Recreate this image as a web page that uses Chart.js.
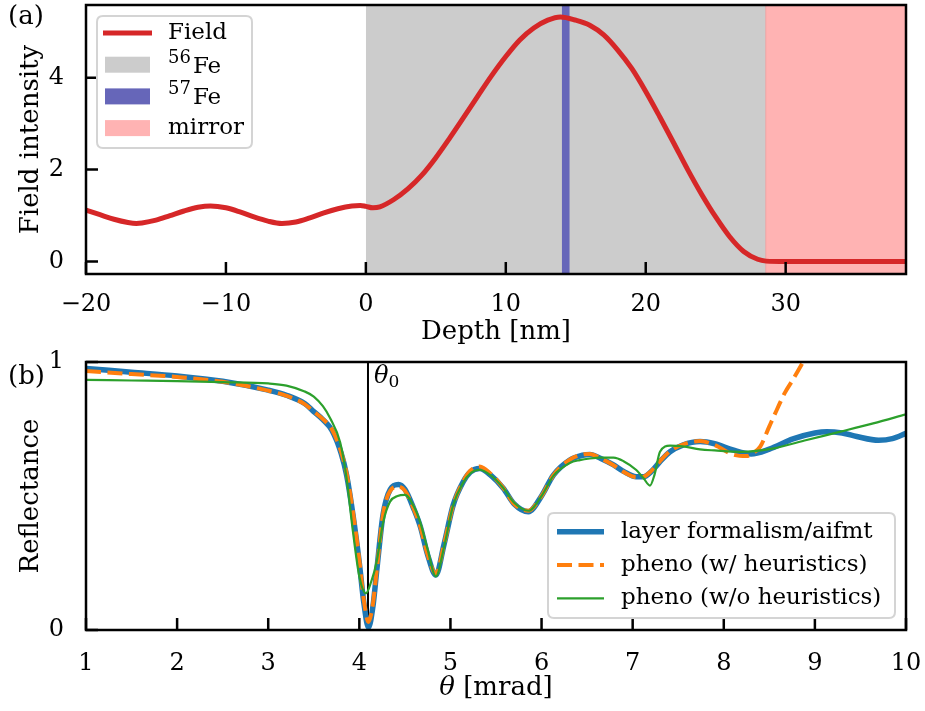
<!DOCTYPE html>
<html>
<head>
<meta charset="utf-8">
<script src="https://cdn.jsdelivr.net/npm/chart.js@4.4.1/dist/chart.umd.min.js"></script>
<style>
body { margin: 0; background: #fff; }
#wrap { position: relative; width: 925px; height: 711px; }
canvas { position: absolute; left: 0; }
</style>
</head>
<body>
<div id="wrap">
  <canvas id="chartA" width="925" height="350" style="top:0"></canvas>
  <canvas id="chartB" width="925" height="361" style="top:350px"></canvas>
</div>
<script>
// ---- panel (a): field intensity vs depth ----
var depth = [-20,-19,-18,-17,-16.4,-16,-15,-14,-13,-12,-11.1,-10,-9,-8,-7,-6,-5,-4,-3,-2,-1,-0.4,0,0.5,1,2,3,4,5,6,7,8,9,10,11,12,13,13.9,15,16,17,18,19,20,21,22,23,24,25,26,27,28,28.6,30,38.6];
var field = [1.12,1.02,0.92,0.85,0.83,0.84,0.9,1.0,1.1,1.18,1.21,1.17,1.08,0.97,0.88,0.83,0.86,0.95,1.06,1.15,1.21,1.22,1.2,1.17,1.19,1.35,1.58,1.88,2.26,2.69,3.14,3.6,4.05,4.46,4.82,5.08,5.25,5.32,5.25,5.14,4.93,4.6,4.2,3.7,3.15,2.58,2.0,1.46,0.97,0.54,0.22,0.05,0.01,0,0];
var fe56Layer = [0, 28.57];
var fe57Layer = [14.0, 14.57];
var mirrorLayer = [28.57, 38.6];
var depthRange = [-20, 38.6];
var fieldRange = [-0.27, 5.58];
var depthTicks = [-20, -10, 0, 10, 20, 30];
var fieldTicks = [0, 2, 4];

// ---- panel (b): reflectance vs angle ----
var thetaLayer = [1.0,1.5,2.0,2.5,3.0,3.2,3.4,3.5,3.6,3.7,3.8,3.86,3.93,4.0,4.05,4.1,4.15,4.19,4.26,4.34,4.43,4.5,4.6,4.67,4.75,4.84,4.93,5.03,5.14,5.22,5.32,5.45,5.58,5.7,5.855,6.0,6.13,6.31,6.45,6.53,6.65,6.79,6.9,7.04,7.12,7.2,7.3,7.41,7.55,7.74,7.9,8.1,8.3,8.5,8.76,9.0,9.13,9.3,9.46,9.7,9.85,10.0];
var reflLayer = [0.976,0.962,0.948,0.928,0.895,0.876,0.845,0.815,0.785,0.745,0.66,0.578,0.43,0.25,0.1,0.01,0.09,0.218,0.43,0.525,0.543,0.525,0.45,0.385,0.28,0.205,0.32,0.466,0.553,0.59,0.603,0.575,0.529,0.47,0.441,0.5,0.578,0.634,0.652,0.655,0.64,0.616,0.592,0.572,0.572,0.59,0.628,0.665,0.69,0.703,0.695,0.672,0.657,0.675,0.713,0.735,0.74,0.735,0.722,0.708,0.714,0.734];
var thetaHeur = [1.0,1.5,2.0,2.5,3.0,3.2,3.4,3.5,3.6,3.7,3.8,3.86,3.93,4.0,4.05,4.1,4.15,4.19,4.26,4.34,4.43,4.5,4.6,4.67,4.75,4.84,4.93,5.03,5.14,5.22,5.32,5.45,5.58,5.7,5.855,6.0,6.13,6.31,6.45,6.53,6.65,6.79,6.9,7.04,7.12,7.2,7.3,7.41,7.55,7.74,7.9,8.1,8.25,8.33,8.4,8.5,8.58,8.67,8.76,8.87,9.0];
var reflHeur = [0.966,0.955,0.944,0.926,0.893,0.874,0.843,0.815,0.787,0.748,0.665,0.585,0.44,0.26,0.11,0.03,0.1,0.22,0.43,0.52,0.535,0.52,0.45,0.385,0.28,0.21,0.32,0.466,0.555,0.595,0.61,0.58,0.53,0.47,0.445,0.5,0.578,0.636,0.655,0.657,0.64,0.615,0.59,0.57,0.572,0.592,0.63,0.667,0.692,0.705,0.69,0.655,0.649,0.662,0.684,0.76,0.82,0.885,0.935,1.0,1.08];
var thetaNoHeur = [1.0,1.5,2.0,2.5,3.0,3.2,3.4,3.5,3.6,3.68,3.79,3.86,3.93,4.0,4.073,4.13,4.19,4.263,4.337,4.42,4.5,4.6,4.67,4.75,4.84,4.93,5.03,5.14,5.22,5.32,5.45,5.58,5.7,5.855,6.0,6.13,6.31,6.42,6.53,6.65,6.79,6.9,7.04,7.12,7.19,7.24,7.3,7.41,7.55,7.74,7.9,8.18,8.55,8.91,9.28,9.64,10.0];
var reflNoHeur = [0.933,0.931,0.929,0.925,0.92,0.912,0.89,0.871,0.835,0.79,0.70,0.567,0.367,0.2,0.137,0.18,0.255,0.404,0.479,0.5,0.504,0.46,0.4,0.3,0.2,0.31,0.466,0.55,0.585,0.598,0.575,0.53,0.475,0.445,0.5,0.575,0.623,0.634,0.64,0.643,0.643,0.63,0.597,0.566,0.539,0.58,0.665,0.688,0.685,0.674,0.67,0.665,0.678,0.709,0.74,0.771,0.805];
var theta0 = 4.095;
var thetaRange = [1, 10];
var reflRange = [0, 1];
var thetaTicks = [1,2,3,4,5,6,7,8,9,10];
var reflTicks = [0, 1];

var FONT = 'DejaVu Serif';
Chart.defaults.font.family = FONT;
Chart.defaults.color = '#000';

function xy(xs, ys) {
    return xs.map(function(x, i) { return {x: x, y: ys[i]}; });
}

function fmt(v) {
    return v < 0 ? '\u2212' + Math.abs(v) : '' + v;
}

function fixedBox(w, h) {
    return function(s) {
        if (w) s.width = w;
        if (h) s.height = h;
        s.paddingTop = 0; s.paddingBottom = 0;
        s.paddingLeft = 0; s.paddingRight = 0;
    };
}

function roundRect(ctx, x, y, w, h, r) {
    ctx.beginPath();
    ctx.moveTo(x + r, y);
    ctx.lineTo(x + w - r, y);
    ctx.quadraticCurveTo(x + w, y, x + w, y + r);
    ctx.lineTo(x + w, y + h - r);
    ctx.quadraticCurveTo(x + w, y + h, x + w - r, y + h);
    ctx.lineTo(x + r, y + h);
    ctx.quadraticCurveTo(x, y + h, x, y + h - r);
    ctx.lineTo(x, y + r);
    ctx.quadraticCurveTo(x, y, x + r, y);
    ctx.closePath();
}

// black frame + inward ticks, matplotlib style
var frameTicks = {
    id: 'frameTicks',
    afterDatasetsDraw: function(chart) {
        var a = chart.chartArea, ctx = chart.ctx;
        var sx = chart.scales.x, sy = chart.scales.y;
        ctx.save();
        ctx.strokeStyle = '#000';
        ctx.lineWidth = 2.5;
        ctx.beginPath();
        sx.ticks.forEach(function(t) {
            var px = sx.getPixelForValue(t.value);
            ctx.moveTo(px, a.bottom);
            ctx.lineTo(px, a.bottom - 12);
        });
        sy.ticks.forEach(function(t) {
            var py = sy.getPixelForValue(t.value);
            ctx.moveTo(a.left, py);
            ctx.lineTo(a.left + 12, py);
        });
        ctx.stroke();
        ctx.strokeRect(a.left, a.top, a.right - a.left, a.bottom - a.top);
        ctx.restore();
    }
};

// legend drawn inside the plot area
var boxLegend = {
    id: 'boxLegend',
    afterDraw: function(chart, args, o) {
        var ctx = chart.ctx;
        ctx.save();
        roundRect(ctx, o.x, o.y, o.w, o.h, 6);
        ctx.fillStyle = 'rgba(255,255,255,0.8)';
        ctx.fill();
        ctx.strokeStyle = '#d4d4d4';
        ctx.lineWidth = 2;
        ctx.stroke();
        var row = 0;
        chart.data.datasets.forEach(function(ds) {
            if (!ds.label) return;
            var cy = o.y + o.first + row * o.rowH;
            var hx = o.x + o.hx;
            if (ds.fill) {
                ctx.fillStyle = ds.backgroundColor;
                ctx.fillRect(hx + 2, cy - 8, o.hl - 4, 16);
            } else {
                ctx.strokeStyle = ds.borderColor;
                ctx.lineWidth = ds.borderWidth;
                ctx.setLineDash(ds.borderDash || []);
                ctx.beginPath();
                ctx.moveTo(hx, cy);
                ctx.lineTo(hx + o.hl, cy);
                ctx.stroke();
                ctx.setLineDash([]);
            }
            ctx.fillStyle = '#000';
            ctx.textAlign = 'left';
            var tx = o.x + o.tx;
            if (ds.isotope) {
                // mass number as a raised superscript, then the element
                ctx.textBaseline = 'alphabetic';
                ctx.font = '18px ' + FONT;
                ctx.fillText(ds.isotope, tx, cy - 2);
                var sw = ctx.measureText(ds.isotope).width;
                ctx.font = o.size + 'px ' + FONT;
                ctx.fillText(ds.element, tx + sw + 2, cy + 8);
            } else {
                ctx.font = o.size + 'px ' + FONT;
                ctx.textBaseline = 'middle';
                ctx.fillText(ds.label, tx, cy);
            }
            row++;
        });
        ctx.restore();
    }
};

var chartA = new Chart(document.getElementById('chartA'), {
    type: 'line',
    data: {
        datasets: [{
            label: 'Field',
            data: xy(depth, field),
            borderColor: '#d62728',
            borderWidth: 5,
            pointRadius: 0,
            cubicInterpolationMode: 'monotone',
            fill: false,
            order: 0
        },{
            label: '\u2075\u2076Fe',
            isotope: '56', element: 'Fe',
            data: xy(fe56Layer, [10, 10]),
            backgroundColor: 'rgb(204,204,204)',
            borderWidth: 0,
            pointRadius: 0,
            fill: 'start',
            order: 3
        },{
            label: '\u2075\u2077Fe',
            isotope: '57', element: 'Fe',
            data: xy(fe57Layer, [10, 10]),
            backgroundColor: 'rgb(102,102,185)',
            borderWidth: 0,
            pointRadius: 0,
            fill: 'start',
            order: 2
        },{
            label: 'mirror',
            data: [{x: mirrorLayer[0], y: -1}, {x: mirrorLayer[0], y: 10}, {x: mirrorLayer[1], y: 10}],
            backgroundColor: 'rgb(255,179,179)',
            borderColor: 'rgb(240,140,140)',
            borderWidth: 1,
            pointRadius: 0,
            fill: 'start',
            order: 4
        }]
    },
    options: {
        responsive: false,
        animation: false,
        events: [],
        layout: { padding: { top: 5, right: 19, left: 0, bottom: 0 } },
        plugins: {
            legend: { display: false },
            tooltip: { enabled: false },
            boxLegend: { x: 97, y: 16, w: 155, h: 132, first: 17, rowH: 31.7, hx: 6, hl: 49, tx: 71, size: 23 }
        },
        scales: {
            x: {
                type: 'linear',
                min: depthRange[0], max: depthRange[1],
                grid: { display: false },
                border: { display: false },
                afterBuildTicks: function(s) { s.ticks = depthTicks.map(function(v) { return {value: v}; }); },
                afterFit: fixedBox(0, 76),
                ticks: { padding: 8, font: { size: 24 }, maxRotation: 0, callback: fmt },
                title: { display: true, text: 'Depth [nm]', font: { size: 26 }, padding: { top: 0, bottom: 2 } }
            },
            y: {
                min: fieldRange[0], max: fieldRange[1],
                grid: { display: false },
                border: { display: false },
                afterBuildTicks: function(s) { s.ticks = fieldTicks.map(function(v) { return {value: v}; }); },
                afterFit: fixedBox(86, 0),
                ticks: { padding: 14, font: { size: 24 }, callback: fmt },
                title: { display: true, text: 'Field intensity', font: { size: 26 }, padding: { top: 16, bottom: 0 } }
            }
        }
    },
    plugins: [frameTicks, boxLegend, {
        id: 'panelA',
        afterDraw: function(chart) {
            var ctx = chart.ctx;
            ctx.save();
            ctx.fillStyle = '#000';
            ctx.font = '26px ' + FONT;
            ctx.textBaseline = 'alphabetic';
            ctx.fillText('(a)', 8, 24);
            ctx.restore();
        }
    }]
});

var chartB = new Chart(document.getElementById('chartB'), {
    type: 'line',
    data: {
        datasets: [{
            label: 'layer formalism/aifmt',
            data: xy(thetaLayer, reflLayer),
            borderColor: '#1f77b4',
            borderWidth: 5.5,
            pointRadius: 0,
            cubicInterpolationMode: 'monotone',
            fill: false,
            order: 3
        },{
            label: 'pheno (w/ heuristics)',
            data: xy(thetaHeur, reflHeur),
            borderColor: '#ff7f0e',
            borderWidth: 4,
            borderDash: [15, 6.5],
            pointRadius: 0,
            cubicInterpolationMode: 'monotone',
            fill: false,
            clip: 0,
            order: 2
        },{
            label: 'pheno (w/o heuristics)',
            data: xy(thetaNoHeur, reflNoHeur),
            borderColor: '#2ca02c',
            borderWidth: 2.2,
            pointRadius: 0,
            cubicInterpolationMode: 'monotone',
            fill: false,
            order: 1
        },{
            data: xy([theta0, theta0], reflRange),
            borderColor: '#000',
            borderWidth: 2,
            pointRadius: 0,
            fill: false,
            order: 5
        }]
    },
    options: {
        responsive: false,
        animation: false,
        events: [],
        layout: { padding: { top: 12, right: 19, left: 0, bottom: 0 } },
        plugins: {
            legend: { display: false },
            tooltip: { enabled: false },
            boxLegend: { x: 548, y: 163, w: 347, h: 105, first: 18.7, rowH: 33.3, hx: 9, hl: 47, tx: 73, size: 23 }
        },
        scales: {
            x: {
                type: 'linear',
                min: thetaRange[0], max: thetaRange[1],
                grid: { display: false },
                border: { display: false },
                afterBuildTicks: function(s) { s.ticks = thetaTicks.map(function(v) { return {value: v}; }); },
                afterFit: fixedBox(0, 81),
                ticks: { padding: 11, font: { size: 24 }, maxRotation: 0, autoSkip: false, callback: fmt },
                title: { display: false }
            },
            y: {
                min: reflRange[0], max: reflRange[1],
                grid: { display: false },
                border: { display: false },
                afterBuildTicks: function(s) { s.ticks = reflTicks.map(function(v) { return {value: v}; }); },
                afterFit: fixedBox(86, 0),
                ticks: { padding: 14, font: { size: 24 }, callback: fmt },
                title: { display: true, text: 'Reflectance', font: { size: 26 }, padding: { top: 16, bottom: 0 } }
            }
        }
    },
    plugins: [frameTicks, boxLegend, {
        id: 'panelB',
        afterDraw: function(chart) {
            var ctx = chart.ctx, a = chart.chartArea;
            ctx.save();
            ctx.fillStyle = '#000';
            ctx.textBaseline = 'alphabetic';
            ctx.font = '26px ' + FONT;
            ctx.fillText('(b)', 8, 34);
            // theta_0 marker label
            var px = chart.scales.x.getPixelForValue(theta0);
            ctx.font = 'italic 24px ' + FONT;
            ctx.fillText('\u03b8', px + 6, a.top + 21);
            var w = ctx.measureText('\u03b8').width;
            ctx.font = '17px ' + FONT;
            ctx.fillText('0', px + 6 + w, a.top + 25);
            // x axis title with italic theta
            ctx.font = 'italic 26px ' + FONT;
            var w1 = ctx.measureText('\u03b8').width;
            ctx.font = '26px ' + FONT;
            var w2 = ctx.measureText(' [mrad]').width;
            var cx = (a.left + a.right) / 2 - (w1 + w2) / 2;
            ctx.textBaseline = 'middle';
            ctx.font = 'italic 26px ' + FONT;
            ctx.fillText('\u03b8', cx, 338);
            ctx.font = '26px ' + FONT;
            ctx.fillText(' [mrad]', cx + w1, 338);
            ctx.restore();
        }
    }]
});
</script>
</body>
</html>
